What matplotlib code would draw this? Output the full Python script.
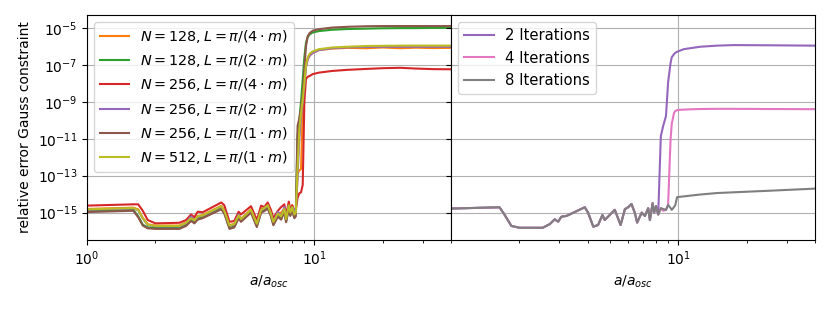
import numpy as np
import matplotlib
matplotlib.use("Agg")
import matplotlib.pyplot as plt
from matplotlib.ticker import NullLocator

# ---------------- data (log10 of relative error) ----------------
x_left = [1.0, 1.6, 1.68, 1.76, 1.85, 2.0, 2.55, 2.73, 2.87, 2.97, 3.07, 3.23, 3.9, 4.02,
          4.24, 4.45, 4.65, 4.76, 5.27, 5.59, 5.84, 6.03, 6.24, 6.45, 6.61, 6.92, 7.15,
          7.39, 7.52, 7.73, 7.85, 8.0, 8.18, 8.3, 8.45, 8.6, 8.75, 8.9, 9.05, 9.2, 9.36,
          9.55, 9.85, 10.5, 12.0, 14.0, 17.0, 20.0, 24.0, 28.0, 33.0, 40.0]

labels_left = [r"$N=128, L=\pi/(4\cdot m)$", r"$N=128, L=\pi/(2\cdot m)$",
               r"$N=256, L=\pi/(4\cdot m)$", r"$N=256, L=\pi/(2\cdot m)$",
               r"$N=256, L=\pi/(1\cdot m)$", r"$N=512, L=\pi/(1\cdot m)$"]

log_n128_l4 = [-14.8, -14.73, -14.82, -15.28, -15.63, -15.7, -15.7, -15.53, -15.28, -15.4,
               -15.18, -15.13, -14.63, -14.88, -15.68, -15.6, -15.13, -15.33, -14.83, -15.58,
               -14.83, -14.73, -14.58, -15.03, -15.48, -15.03, -15.0, -14.78, -15.3, -14.5,
               -14.95, -14.6, -15.05, -15.0, -12.9, -12.7, -12.65, -9.5, -8.0, -7.1, -6.7,
               -6.5, -6.35, -6.2, -6.12, -6.08, -6.1, -6.06, -6.1, -6.07, -6.09, -6.08]
log_n128_l2 = [-14.92, -14.85, -15.2, -15.65, -15.8, -15.83, -15.83, -15.67, -15.4, -15.53,
               -15.33, -15.25, -14.77, -15.0, -15.83, -15.75, -15.25, -15.45, -14.95, -15.73,
               -14.95, -14.87, -14.73, -15.15, -15.63, -15.17, -15.33, -14.9, -15.47, -14.75,
               -15.13, -14.83, -15.25, -14.9, -10.8, -10.0, -9.0, -7.8, -6.6, -5.8, -5.5,
               -5.35, -5.25, -5.17, -5.1, -5.06, -5.04, -5.02, -5.01, -5.01, -5.0, -5.0]
log_n256_l4 = [-14.62, -14.55, -14.55, -14.9, -15.4, -15.58, -15.55, -15.4, -15.1, -15.25,
               -14.95, -14.98, -14.45, -14.6, -15.5, -15.45, -14.95, -15.1, -14.65, -15.4,
               -14.62, -14.7, -14.45, -14.85, -15.3, -14.9, -14.7, -14.55, -15.15, -14.4,
               -14.9, -14.6, -14.9, -14.8, -14.2, -13.95, -13.9, -13.5, -9.0, -7.75, -7.65,
               -7.6, -7.5, -7.42, -7.33, -7.27, -7.22, -7.18, -7.16, -7.2, -7.23, -7.24]
log_n256_l2 = [-14.84, -14.77, -14.87, -15.32, -15.67, -15.74, -15.74, -15.57, -15.2, -15.44,
               -15.22, -15.17, -14.67, -14.92, -15.72, -15.64, -15.1, -15.37, -14.87, -15.62,
               -14.87, -14.77, -14.62, -15.07, -15.52, -14.95, -15.22, -14.7, -15.37, -14.62,
               -15.02, -14.72, -14.85, -15.0, -13.0, -11.0, -9.8, -9.0, -8.1, -7.1, -6.7,
               -6.5, -6.35, -6.2, -6.1, -6.05, -6.03, -6.02, -6.02, -6.02, -6.02, -6.02]
log_n256_l1 = [-14.97, -14.9, -15.25, -15.7, -15.85, -15.88, -15.88, -15.72, -15.45, -15.58,
               -15.38, -15.3, -14.82, -15.05, -15.88, -15.8, -15.3, -15.5, -15.0, -15.78,
               -15.0, -14.92, -14.78, -15.2, -15.68, -15.22, -15.38, -14.95, -15.52, -14.8,
               -15.18, -14.88, -15.3, -15.2, -10.3, -9.9, -9.3, -8.6, -7.2, -6.0, -5.45,
               -5.28, -5.15, -5.07, -4.98, -4.94, -4.91, -4.9, -4.9, -4.9, -4.9, -4.9]
log_n512_l1 = [-14.82, -14.75, -14.85, -15.3, -15.65, -15.72, -15.72, -15.55, -15.3, -15.42,
               -15.2, -15.15, -14.65, -14.9, -15.7, -15.62, -15.15, -15.35, -14.85, -15.6,
               -14.85, -14.75, -14.6, -15.05, -15.5, -15.05, -15.2, -14.8, -15.35, -14.6,
               -15.0, -14.7, -15.1, -15.0, -12.5, -10.5, -9.6, -8.9, -8.0, -7.0, -6.6,
               -6.4, -6.27, -6.15, -6.06, -6.02, -5.98, -5.97, -5.96, -5.96, -5.96, -5.96]

x_right = [1.0, 1.64, 1.73, 1.85, 2.01, 2.54, 2.73, 2.87, 2.97, 3.07, 3.23, 3.89, 4.02,
           4.24, 4.45, 4.65, 4.76, 5.27, 5.59, 5.84, 6.03, 6.24, 6.45, 6.61, 6.92, 7.15,
           7.39, 7.52, 7.73, 7.85, 8.0, 8.18, 8.4, 8.6, 8.85, 9.04, 9.27, 9.38, 9.6, 9.73,
           9.9, 10.6, 12.5, 14.8, 17.5, 24.6, 40.0]
labels_right = ["2 Iterations", "4 Iterations", "8 Iterations"]

log_iter2 = [-14.78, -14.71, -15.13, -15.72, -15.82, -15.82, -15.62, -15.36, -15.49, -15.22,
             -15.18, -14.71, -15.0, -15.76, -15.67, -15.13, -15.4, -14.85, -15.67, -14.81,
             -14.71, -14.53, -15.0, -15.54, -15.0, -15.18, -14.76, -15.4, -14.49, -15.0,
             -14.64, -15.1, -10.86, -10.31, -9.77, -7.95, -6.9, -6.59, -6.42, -6.35,
             -6.29, -6.15, -6.02, -5.96, -5.93, -5.94, -5.96]
log_iter4 = [-14.78, -14.71, -15.13, -15.72, -15.82, -15.82, -15.62, -15.36, -15.49, -15.22,
             -15.18, -14.71, -15.0, -15.76, -15.67, -15.13, -15.4, -14.85, -15.67, -14.81,
             -14.71, -14.53, -15.0, -15.54, -15.0, -15.18, -14.76, -15.4, -14.49, -15.0,
             -14.64, -15.1, -14.76, -14.9, -14.85, -14.58, -11.04, -10.2, -9.6, -9.5,
             -9.45, -9.42, -9.39, -9.38, -9.38, -9.39, -9.4]
log_iter8 = [-14.78, -14.71, -15.13, -15.72, -15.82, -15.82, -15.62, -15.36, -15.49, -15.22,
             -15.18, -14.71, -15.0, -15.76, -15.67, -15.13, -15.4, -14.85, -15.67, -14.81,
             -14.71, -14.53, -15.0, -15.54, -15.0, -15.18, -14.76, -15.4, -14.49, -15.0,
             -14.64, -15.1, -14.76, -14.8, -14.85, -14.58, -14.75, -14.85, -14.7, -14.58,
             -14.16, -14.12, -14.02, -13.94, -13.9, -13.82, -13.7]

# ---------------- plot ----------------
colors_left = ["#ff7f0e", "#2ca02c", "#d62728", "#9467bd", "#8c564b", "#bcbd22"]
colors_right = ["#9467bd", "#e377c2", "#7f7f7f"]

fig = plt.figure(figsize=(8.3, 3.12), dpi=100)
ax1 = fig.add_axes([87/830, 1-240/312, 364/830, 225/312])
ax2 = fig.add_axes([451/830, 1-240/312, 364/830, 225/312], sharey=ax1)

series_left = [log_n128_l4, log_n128_l2, log_n256_l4, log_n256_l2, log_n256_l1, log_n512_l1]
for ys, c, lab in zip(series_left, colors_left, labels_left):
    ax1.plot(x_left, 10.0 ** np.array(ys), color=c, lw=1.5, label=lab)

series_right = [log_iter2, log_iter4, log_iter8]
for ys, c, lab in zip(series_right, colors_right, labels_right):
    ax2.plot(x_right, 10.0 ** np.array(ys), color=c, lw=1.5, label=lab)

for ax in (ax1, ax2):
    ax.set_xscale("log")
    ax.set_yscale("log")
    ax.set_xlabel(r"$a/a_{osc}$", fontsize=10)
    ax.grid(True, which="major", color="#b0b0b0", lw=0.8)
    ax.tick_params(labelsize=10)

ax1.set_xlim(1.0, 40.0)
ax2.set_xlim(1.004, 40.0)
ax1.set_ylim(3.3e-17, 5e-5)
ax1.set_yticks([1e-15, 1e-13, 1e-11, 1e-9, 1e-7, 1e-5])
ax1.yaxis.set_minor_locator(NullLocator())
ax1.set_ylabel("relative error Gauss constraint", fontsize=10)
plt.setp(ax2.get_yticklabels(), visible=False)

ax1.legend(loc="upper left", fontsize=10.4)
ax2.legend(loc="upper left", fontsize=10.6)

fig.savefig("out.png", dpi=100)
